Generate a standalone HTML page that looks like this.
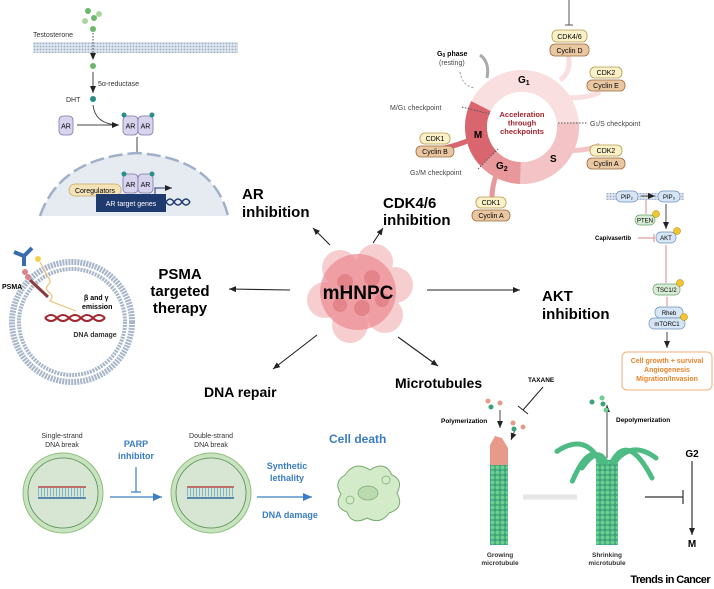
<!DOCTYPE html>
<html><head><meta charset="utf-8"><style>
html,body{margin:0;padding:0;background:#fff}
svg{display:block;font-family:"Liberation Sans",sans-serif}
.b{font-weight:bold}
</style></head><body>
<svg width="714" height="589" viewBox="0 0 714 589" xmlns="http://www.w3.org/2000/svg">
<defs>
<marker id="ah" markerWidth="8" markerHeight="8" refX="7" refY="4" orient="auto" markerUnits="userSpaceOnUse"><path d="M0,1 L7,4 L0,7z" fill="#222"/></marker>
<marker id="ahb" markerWidth="10" markerHeight="10" refX="9" refY="5" orient="auto" markerUnits="userSpaceOnUse"><path d="M0,1 L9,5 L0,9z" fill="#3b7dc4"/></marker>
<pattern id="mem" width="3" height="3" patternUnits="userSpaceOnUse"><rect width="3" height="3" fill="#dfe6ef"/><circle cx="1.5" cy="1.5" r="0.9" fill="#9fb0c8"/></pattern>
<pattern id="mt" width="5" height="5" patternUnits="userSpaceOnUse"><rect width="5" height="5" fill="#3aa27a"/><circle cx="2.5" cy="2.5" r="2" fill="#6ccf8f"/></pattern>
</defs>

<!-- AR panel -->
<rect x="33" y="42" width="205" height="11" fill="url(#mem)"/>
<circle cx="88" cy="11" r="3" fill="#6cb86a"/><circle cx="99" cy="14" r="3" fill="#a9d6a0"/><circle cx="94" cy="18" r="3" fill="#6cb86a"/><circle cx="85" cy="21" r="3" fill="#a9d6a0"/>
<circle cx="93" cy="29" r="3" fill="#6cb86a"/>
<text x="33" y="37" font-size="7" fill="#333">Testosterone</text>
<line x1="93" y1="33" x2="93" y2="60" stroke="#444" stroke-dasharray="1.5,1.5" marker-end="url(#ah)"/>
<circle cx="93" cy="66" r="3" fill="#6cb86a"/>
<line x1="93" y1="72" x2="93" y2="93" stroke="#444" marker-end="url(#ah)"/>
<text x="98" y="86" font-size="7" fill="#333">5α-reductase</text>
<text x="66" y="102" font-size="7" fill="#333">DHT</text>
<circle cx="93" cy="99" r="3" fill="#2a8f86"/>
<rect x="59" y="116" width="14" height="19" rx="4" fill="#d9d4ee" stroke="#7d74a8" stroke-width="0.8"/><text x="66" y="128.5" font-size="7" text-anchor="middle">AR</text>
<path d="M93,105 Q95,124 118,125" fill="none" stroke="#444"/>
<line x1="77" y1="125" x2="119" y2="125" stroke="#444" marker-end="url(#ah)"/>
<rect x="123" y="116" width="15" height="19" rx="4" fill="#d9d4ee" stroke="#7d74a8" stroke-width="0.8"/><rect x="138" y="116" width="15" height="19" rx="4" fill="#d9d4ee" stroke="#7d74a8" stroke-width="0.8"/>
<text x="130.5" y="128.5" font-size="7" text-anchor="middle">AR</text><text x="145.5" y="128.5" font-size="7" text-anchor="middle">AR</text>
<circle cx="124" cy="115" r="2.5" fill="#2a8f86"/><circle cx="152" cy="115" r="2.5" fill="#2a8f86"/>
<line x1="137" y1="137" x2="137" y2="171" stroke="#444" marker-end="url(#ah)"/>
<path d="M40,216 Q60,158 137,153 Q214,158 228,216 Z" fill="#e6ebf2"/>
<path d="M40,216 Q60,158 137,153 Q214,158 228,216" fill="none" stroke="#9fb0c8" stroke-width="2.5" stroke-dasharray="14,5"/>
<rect x="123" y="174" width="15" height="19" rx="4" fill="#d9d4ee" stroke="#7d74a8" stroke-width="0.8"/><rect x="138" y="174" width="15" height="19" rx="4" fill="#d9d4ee" stroke="#7d74a8" stroke-width="0.8"/>
<text x="130.5" y="187" font-size="7" text-anchor="middle">AR</text><text x="145.5" y="187" font-size="7" text-anchor="middle">AR</text>
<circle cx="124" cy="174" r="2.5" fill="#2a8f86"/><circle cx="152" cy="174" r="2.5" fill="#2a8f86"/>
<rect x="69" y="184" width="52" height="12" rx="6" fill="#f5e3b8" stroke="#c9a866" stroke-width="0.8"/><text x="95" y="193" font-size="7" text-anchor="middle">Coregulators</text>
<path d="M155,196 V188 H172" fill="none" stroke="#1f3a6e" marker-end="url(#ah)"/>
<path d="M166,202 q4,-6 8,0 q4,6 8,0 q4,-6 8,0" fill="none" stroke="#1f3a6e" stroke-width="1.5"/>
<path d="M166,202 q4,6 8,0 q4,-6 8,0 q4,6 8,0" fill="none" stroke="#1f3a6e" stroke-width="1.5"/>
<rect x="96" y="194" width="70" height="18" fill="#1f3a6e"/><text x="131" y="206" font-size="7" fill="#fff" text-anchor="middle">AR target genes</text>
<text x="242" y="199" font-size="15" class="b">AR</text><text x="242" y="217" font-size="15" class="b">inhibition</text>

<!-- Cell cycle -->
<path d="M568,55 Q572,72 560,80" fill="none" stroke="#f9dfe0" stroke-width="5"/>
<path d="M600,92 Q590,98 565,98" fill="none" stroke="#f9dfe0" stroke-width="5"/>
<path d="M600,145 Q585,152 563,150" fill="none" stroke="#f3c3c5" stroke-width="5"/>
<path d="M420,150 Q440,152 470,140" fill="none" stroke="#d9656e" stroke-width="5"/>
<path d="M492,197 Q492,185 498,170" fill="none" stroke="#e8979b" stroke-width="5"/>
<circle cx="522" cy="127" r="46" fill="none" stroke="#f9dfe0" stroke-width="22"/>
<path d="M567.8,123 A46,46 0 0,1 520.4,173" fill="none" stroke="#f3c3c5" stroke-width="22"/>
<path d="M520.4,173 A46,46 0 0,1 488.4,158.4" fill="none" stroke="#e8979b" stroke-width="22"/>
<path d="M488.4,158.4 A46,46 0 0,1 481,106.1" fill="none" stroke="#d9656e" stroke-width="22"/>
<circle cx="522" cy="127" r="35" fill="#fff"/>
<text x="522" y="117" font-size="7.5" fill="#a3262f" text-anchor="middle" class="b">Acceleration</text>
<text x="522" y="125.5" font-size="7.5" fill="#a3262f" text-anchor="middle" class="b">through</text>
<text x="522" y="134" font-size="7.5" fill="#a3262f" text-anchor="middle" class="b">checkpoints</text>
<text x="518" y="83" font-size="10" class="b">G<tspan font-size="7" dy="2">1</tspan></text>
<text x="550" y="162" font-size="10" class="b">S</text>
<text x="496" y="169" font-size="10" class="b">G<tspan font-size="7" dy="2">2</tspan></text>
<text x="478" y="138" font-size="10" class="b" text-anchor="middle">M</text>
<text x="437" y="56" font-size="7" class="b">G<tspan font-size="5" dy="1">0</tspan><tspan dy="-1"> phase</tspan></text>
<text x="439" y="65" font-size="7" fill="#444">(resting)</text>
<path d="M487,78 Q490,62 480,55" fill="none" stroke="#aaa" stroke-width="3"/>
<path d="M460,72 Q462,86 475,88" fill="none" stroke="#999" stroke-dasharray="2,2"/>
<text x="390" y="110" font-size="7" fill="#444">M/G<tspan font-size="5">1</tspan> checkpoint</text>
<line x1="462" y1="107" x2="490" y2="114" stroke="#555" stroke-dasharray="1.5,1.5"/>
<text x="590" y="126" font-size="7" fill="#444">G<tspan font-size="5">1</tspan>/S checkpoint</text>
<line x1="558" y1="123" x2="588" y2="123" stroke="#555" stroke-dasharray="1.5,1.5"/>
<text x="410" y="175" font-size="7" fill="#444">G<tspan font-size="5">2</tspan>/M checkpoint</text>
<line x1="478" y1="169" x2="498" y2="149" stroke="#555" stroke-dasharray="1.5,1.5"/>
<line x1="569" y1="0" x2="569" y2="25" stroke="#555"/><line x1="565" y1="25" x2="573" y2="25" stroke="#555"/>
<g font-size="7" text-anchor="middle">
<rect x="552" y="30" width="35" height="12" rx="5" fill="#fbf1c8" stroke="#b79a4e" stroke-width="0.8"/><text x="569.5" y="39">CDK4/6</text>
<rect x="550" y="44" width="39" height="12" rx="5" fill="#e9c7a2" stroke="#9c6a3a" stroke-width="0.8"/><text x="569.5" y="53">Cyclin D</text>
<rect x="590" y="67" width="32" height="11" rx="5" fill="#fbf1c8" stroke="#b79a4e" stroke-width="0.8"/><text x="606" y="75">CDK2</text>
<rect x="587" y="80" width="38" height="11" rx="5" fill="#e9c7a2" stroke="#9c6a3a" stroke-width="0.8"/><text x="606" y="88">Cyclin E</text>
<rect x="590" y="145" width="32" height="11" rx="5" fill="#fbf1c8" stroke="#b79a4e" stroke-width="0.8"/><text x="606" y="153">CDK2</text>
<rect x="587" y="158" width="38" height="11" rx="5" fill="#e9c7a2" stroke="#9c6a3a" stroke-width="0.8"/><text x="606" y="166">Cyclin A</text>
<rect x="420" y="133" width="30" height="11" rx="5" fill="#fbf1c8" stroke="#b79a4e" stroke-width="0.8"/><text x="435" y="141">CDK1</text>
<rect x="416" y="146" width="38" height="11" rx="5" fill="#e9c7a2" stroke="#9c6a3a" stroke-width="0.8"/><text x="435" y="154">Cyclin B</text>
<rect x="476" y="197" width="30" height="11" rx="5" fill="#fbf1c8" stroke="#b79a4e" stroke-width="0.8"/><text x="491" y="205">CDK1</text>
<rect x="472" y="210" width="38" height="11" rx="5" fill="#e9c7a2" stroke="#9c6a3a" stroke-width="0.8"/><text x="491" y="218">Cyclin A</text>
</g>
<text x="383" y="208" font-size="15" class="b">CDK4/6</text><text x="383" y="225" font-size="15" class="b">inhibition</text>

<!-- central -->
<g fill="#f2a7aa" opacity="0.55">
<circle cx="340" cy="268" r="18"/><circle cx="375" cy="262" r="18"/><circle cx="395" cy="285" r="18"/><circle cx="385" cy="315" r="18"/><circle cx="350" cy="325" r="18"/><circle cx="325" cy="300" r="18"/><circle cx="360" cy="292" r="22"/>
</g>
<circle cx="358" cy="292" r="38" fill="#eb8a90" opacity="0.7"/>
<g fill="#d96a73" opacity="0.5"><circle cx="345" cy="282" r="8"/><circle cx="372" cy="278" r="8"/><circle cx="362" cy="308" r="8"/><circle cx="382" cy="300" r="7"/><circle cx="340" cy="305" r="7"/></g>
<text x="358" y="299" font-size="19" class="b" text-anchor="middle">mHNPC</text>
<g stroke="#222" stroke-width="1.1">
<line x1="330" y1="245" x2="313" y2="228" marker-end="url(#ah)"/>
<line x1="373" y1="243" x2="383" y2="228" marker-end="url(#ah)"/>
<line x1="290" y1="290" x2="229" y2="289" marker-end="url(#ah)"/>
<line x1="427" y1="290" x2="520" y2="290" marker-end="url(#ah)"/>
<line x1="317" y1="335" x2="273" y2="369" marker-end="url(#ah)"/>
<line x1="398" y1="337" x2="438" y2="366" marker-end="url(#ah)"/>
</g>

<!-- PSMA -->
<circle cx="72" cy="322" r="60" fill="none" stroke="#a8b6ca" stroke-width="6" stroke-dasharray="2,1"/>
<circle cx="72" cy="322" r="53" fill="#fff" stroke="#a8b6ca" stroke-width="4" stroke-dasharray="2,1"/>
<path d="M14,252 l10,4 M24,256 l8,-8 M24,256 l0,10" stroke="#3a6db0" stroke-width="4" fill="none"/>
<circle cx="38" cy="259" r="3" fill="#f3d34a"/>
<circle cx="25" cy="272" r="3" fill="#d9868b"/><circle cx="28" cy="277" r="3" fill="#d9868b"/>
<line x1="30" y1="280" x2="48" y2="297" stroke="#8a3b3f" stroke-width="3"/>
<text x="2" y="289" font-size="7" class="b">PSMA</text>
<path d="M40,262 l8,15 q4,5 0,8 q-4,4 2,8 q4,4 0,8 l26,10" fill="none" stroke="#f0c07a" stroke-width="1.2"/>
<text x="84" y="300" font-size="7" class="b">β and γ</text><text x="82" y="309" font-size="7" class="b">emission</text>
<path d="M45,318 q6,-6 12,0 q6,6 12,0 q6,-6 12,0 q6,6 12,0 q6,-6 12,0 M45,318 q6,6 12,0 q6,-6 12,0 q6,6 12,0 q6,-6 12,0 q6,6 12,0" fill="none" stroke="#a3262f" stroke-width="2"/>
<text x="95" y="337" font-size="7" class="b" text-anchor="middle" fill="#333">DNA damage</text>
<text x="180" y="279" font-size="15" class="b" text-anchor="middle">PSMA</text>
<text x="180" y="296" font-size="15" class="b" text-anchor="middle">targeted</text>
<text x="180" y="313" font-size="15" class="b" text-anchor="middle">therapy</text>

<!-- AKT -->
<text x="542" y="301" font-size="15" class="b">AKT</text><text x="542" y="319" font-size="15" class="b">inhibition</text>
<rect x="606" y="193" width="78" height="7" fill="url(#mem)"/>
<g font-size="6" text-anchor="middle">
<rect x="616" y="191" width="22" height="11" rx="5" fill="#d6e6f6" stroke="#6d8fb8" stroke-width="0.7"/><text x="627" y="199">PIP₂</text>
<rect x="658" y="191" width="22" height="11" rx="5" fill="#d6e6f6" stroke="#6d8fb8" stroke-width="0.7"/><text x="669" y="199">PIP₃</text>
<line x1="641" y1="196" x2="655" y2="196" stroke="#444" marker-end="url(#ah)"/>
<line x1="646" y1="214" x2="646" y2="200" stroke="#d9868b"/>
<rect x="635" y="215" width="20" height="10" rx="5" fill="#d8ecd5" stroke="#6aa06a" stroke-width="0.7"/><text x="645" y="222.5">PTEN</text>
<circle cx="656" cy="214" r="3.5" fill="#f3c530" stroke="#a67c00" stroke-width="0.5"/>
<line x1="666" y1="204" x2="666" y2="229" stroke="#444" marker-end="url(#ah)"/>
<text x="595" y="240" font-size="6" class="b" text-anchor="start">Capivasertib</text>
<line x1="638" y1="238" x2="654" y2="238" stroke="#d9868b"/><line x1="654" y1="234" x2="654" y2="242" stroke="#d9868b"/>
<rect x="656" y="232" width="20" height="11" rx="5" fill="#d6e6f6" stroke="#6d8fb8" stroke-width="0.7"/><text x="666" y="240">AKT</text>
<circle cx="677" cy="231" r="3.5" fill="#f3c530" stroke="#a67c00" stroke-width="0.5"/>
<line x1="666" y1="245" x2="666" y2="283" stroke="#d9868b"/>
<rect x="653" y="284" width="27" height="11" rx="5" fill="#d8ecd5" stroke="#6aa06a" stroke-width="0.7"/><text x="666.5" y="292">TSC1/2</text>
<circle cx="680" cy="283" r="3.5" fill="#f3c530" stroke="#a67c00" stroke-width="0.5"/>
<line x1="667" y1="297" x2="667" y2="306" stroke="#d9868b"/>
<rect x="655" y="307" width="28" height="11" rx="5" fill="#d6e6f6" stroke="#6d8fb8" stroke-width="0.7"/><text x="669" y="315">Rheb</text>
<rect x="649" y="318" width="36" height="11" rx="5" fill="#d6e6f6" stroke="#6d8fb8" stroke-width="0.7"/><text x="667" y="326">mTORC1</text>
<circle cx="684" cy="317" r="3.5" fill="#f3c530" stroke="#a67c00" stroke-width="0.5"/>
<line x1="667" y1="332" x2="667" y2="348" stroke="#444" marker-end="url(#ah)"/>
</g>
<rect x="622" y="352" width="90" height="38" rx="5" fill="#fff" stroke="#f0b27a"/>
<g font-size="7" class="b" fill="#e8842a" text-anchor="middle">
<text x="667" y="363">Cell growth + survival</text><text x="667" y="372">Angiogenesis</text><text x="667" y="381">Migration/Invasion</text></g>

<!-- DNA repair -->
<text x="204" y="397" font-size="14" class="b">DNA repair</text>
<g font-size="7" fill="#333" text-anchor="middle">
<text x="62" y="438">Single-strand</text><text x="62" y="447">DNA break</text>
<text x="211" y="438">Double-strand</text><text x="211" y="447">DNA break</text></g>
<circle cx="63" cy="493" r="40" fill="#c9e2bf" stroke="#8cc07c"/><circle cx="63" cy="493" r="35" fill="#d7e6d2" stroke="#4e8a4e" stroke-width="0.8"/>
<circle cx="211" cy="493" r="40" fill="#c9e2bf" stroke="#8cc07c"/><circle cx="211" cy="493" r="35" fill="#d7e6d2" stroke="#4e8a4e" stroke-width="0.8"/>
<line x1="38" y1="487" x2="86" y2="487" stroke="#c04040" stroke-width="1.5"/><line x1="38" y1="498" x2="86" y2="498" stroke="#2c6aa0" stroke-width="1.5"/>
<line x1="38" y1="492" x2="86" y2="492" stroke="#7fb7c8" stroke-width="9" stroke-dasharray="1,2"/>
<line x1="187" y1="487" x2="234" y2="487" stroke="#c04040" stroke-width="1.5"/><line x1="187" y1="498" x2="234" y2="498" stroke="#2c6aa0" stroke-width="1.5"/>
<line x1="187" y1="492" x2="234" y2="492" stroke="#7fb7c8" stroke-width="9" stroke-dasharray="1,2"/>
<g font-size="9" class="b" fill="#3b7dc4" text-anchor="middle">
<text x="136" y="447">PARP</text><text x="136" y="459">inhibitor</text>
<text x="287" y="469">Synthetic</text><text x="287" y="481">lethality</text>
<text x="290" y="518">DNA damage</text></g>
<line x1="136" y1="467" x2="136" y2="492" stroke="#3b7dc4" stroke-width="1.2"/><line x1="131" y1="492" x2="141" y2="492" stroke="#3b7dc4" stroke-width="1.2"/>
<line x1="110" y1="497" x2="162" y2="497" stroke="#3b7dc4" stroke-width="1.2" marker-end="url(#ahb)"/>
<line x1="257" y1="497" x2="312" y2="497" stroke="#3b7dc4" stroke-width="1.2" marker-end="url(#ahb)"/>
<text x="329" y="443" font-size="12" class="b" fill="#3b7dc4">Cell death</text>
<path d="M345,475 q10,-15 25,-5 q15,-10 22,5 q12,5 5,18 q8,15 -8,20 q-8,12 -22,5 q-15,8 -20,-6 q-14,-5 -6,-18 q-8,-12 4,-19z" fill="#d3ebc9" stroke="#7aaa6e"/>
<ellipse cx="368" cy="493" rx="10" ry="7" fill="#bcd9b1" stroke="#7aaa6e" stroke-width="0.7"/>
<circle cx="350" cy="500" r="4" fill="none" stroke="#7aaa6e" stroke-width="0.7"/><circle cx="386" cy="480" r="4" fill="none" stroke="#7aaa6e" stroke-width="0.7"/>

<!-- Microtubules -->
<text x="395" y="388" font-size="14" class="b">Microtubules</text>
<text x="528" y="382" font-size="6.5" class="b">TAXANE</text>
<line x1="543" y1="387" x2="523" y2="410" stroke="#222"/><line x1="518" y1="406" x2="528" y2="414" stroke="#222"/>
<text x="441" y="423" font-size="6.5" class="b">Polymerization</text>
<line x1="500" y1="410" x2="500" y2="428" stroke="#444" marker-end="url(#ah)"/>
<line x1="515" y1="430" x2="511" y2="440" stroke="#444" marker-end="url(#ah)"/>
<circle cx="488" cy="401" r="2.5" fill="#e89a8a"/><circle cx="491" cy="407" r="2.5" fill="#3aa27a"/><circle cx="500" cy="403" r="2.5" fill="#e89a8a"/>
<circle cx="513" cy="423" r="2.5" fill="#e89a8a"/><circle cx="514" cy="429" r="2.5" fill="#3aa27a"/><circle cx="523" cy="427" r="2.5" fill="#e89a8a"/>
<rect x="490" y="455" width="18" height="90" fill="url(#mt)"/>
<path d="M490,465 L490,445 L495,436 L502,438 L508,448 L508,465z" fill="#e89a8a"/>
<text x="500" y="557" font-size="6.5" class="b" text-anchor="middle" fill="#333">Growing</text><text x="500" y="565" font-size="6.5" class="b" text-anchor="middle" fill="#333">microtubule</text>
<line x1="523" y1="497" x2="577" y2="497" stroke="#e6e6e6" stroke-width="5"/>
<rect x="596" y="460" width="22" height="85" fill="url(#mt)"/>
<g fill="none" stroke="#4fbb84" stroke-width="5" stroke-dasharray="3,1.5" stroke-linecap="round">
<path d="M600,462 Q585,432 556,452"/><path d="M603,462 Q590,440 572,482"/><path d="M612,462 Q628,432 652,478"/><path d="M615,462 Q632,440 656,458"/><path d="M606,462 Q598,445 582,468"/>
</g>
<line x1="607" y1="458" x2="607" y2="405" stroke="#444" marker-end="url(#ah)"/>
<circle cx="592" cy="402" r="2.5" fill="#3aa27a"/><circle cx="602" cy="398" r="2.5" fill="#6ccf8f"/><circle cx="603" cy="404" r="2.5" fill="#3aa27a"/><circle cx="606" cy="410" r="2.5" fill="#6ccf8f"/>
<text x="616" y="422" font-size="6.5" class="b">Depolymerization</text>
<text x="607" y="557" font-size="6.5" class="b" text-anchor="middle" fill="#333">Shrinking</text><text x="607" y="565" font-size="6.5" class="b" text-anchor="middle" fill="#333">microtubule</text>
<line x1="645" y1="497" x2="683" y2="497" stroke="#333" stroke-width="1.2"/><line x1="683" y1="490" x2="683" y2="504" stroke="#333" stroke-width="1.2"/>
<text x="692" y="457" font-size="10" class="b" text-anchor="middle">G2</text>
<line x1="692" y1="461" x2="692" y2="535" stroke="#333" stroke-width="1.2" marker-end="url(#ah)"/>
<text x="692" y="547" font-size="10" class="b" text-anchor="middle">M</text>
<text x="710" y="583" font-size="11" class="b" text-anchor="end" letter-spacing="-0.6">Trends in Cancer</text>
</svg>
</body></html>
